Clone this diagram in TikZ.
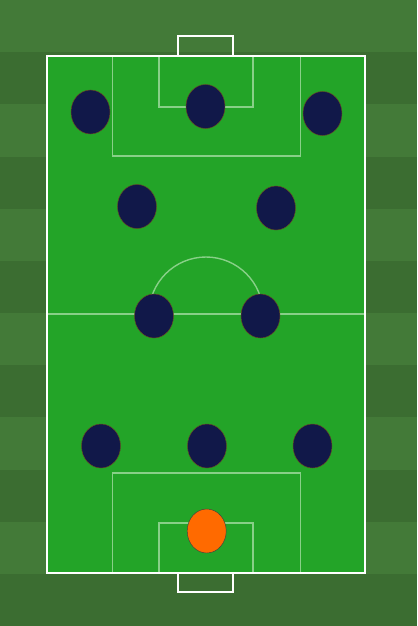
\documentclass[tikz,border=0pt]{standalone}
\usetikzlibrary{shapes.geometric}

\definecolor{grasslight}{HTML}{437A38}
\definecolor{grassdark}{HTML}{3B6D31}
\definecolor{turf}{HTML}{23A428}
\definecolor{chalk}{HTML}{88D088}
\definecolor{navy}{HTML}{111849}
\definecolor{keepercol}{HTML}{FF6A00}

\newcommand*{\pitchL}{47}
\newcommand*{\pitchR}{365}
\newcommand*{\pitchT}{56}
\newcommand*{\pitchB}{573}
\newcommand*{\halfway}{314}
\newcommand*{\stripeh}{52.17}

\begin{document}
\begin{tikzpicture}
[
	player/.style={ellipse,draw=brown!55!black,fill=navy,line width=0.5pt,inner sep=0pt,minimum width=1.56cm,minimum height=1.76cm},
	keeper/.style={player,fill=keepercol,draw=black!75},
	boundary/.style={white,line width=2.6pt},
	marking/.style={chalk,line width=1.6pt},
	x=0.04cm,
	y=-0.04cm
]
	\useasboundingbox (0,0) rectangle (417,626);

	% grass stripes
	\fill[grassdark] (0,0) rectangle (417,626);
	\foreach \i in {0,2,...,10}
		\fill[grasslight] (0,{\i*\stripeh}) rectangle (417,{(\i+1)*\stripeh});

	\fill[turf] (\pitchL,\pitchT) rectangle (\pitchR,\pitchB);

	% markings
	\draw[marking] (\pitchL,\halfway) -- (\pitchR,\halfway);
	\draw[marking] (149,\halfway) arc[start angle=180,end angle=360,radius=57];
	\draw[marking]
	  (112.5,\pitchT) rectangle (300.5,156)
	  (159,\pitchT) rectangle (253,107)
	  (112.5,\pitchB) rectangle (300.5,473)
	  (159,\pitchB) rectangle (253,523)
	;

	% touchlines and goals
	\draw[boundary] (\pitchL,\pitchT) rectangle (\pitchR,\pitchB);
	\draw[boundary] (178,\pitchT) -- (178,36) -- (233,36) -- (233,\pitchT);
	\draw[boundary] (178,\pitchB) -- (178,592) -- (233,592) -- (233,\pitchB);

	% players
	\node[player] (lw) at (90.5,112) {};
	\node[player] (st) at (205.5,106.5) {};
	\node[player] (rw) at (322.5,113.5) {};
	\node[player] (lam) at (137,206.5) {};
	\node[player] (ram) at (276,208) {};
	\node[player] (lcm) at (154,316) {};
	\node[player] (rcm) at (260.5,316) {};
	\node[player] (lb) at (101,446) {};
	\node[player] (cb) at (207,446) {};
	\node[player] (rb) at (312.5,446) {};
	\node[keeper] (gk) at (206.7,531) {};

\end{tikzpicture}
\end{document}
